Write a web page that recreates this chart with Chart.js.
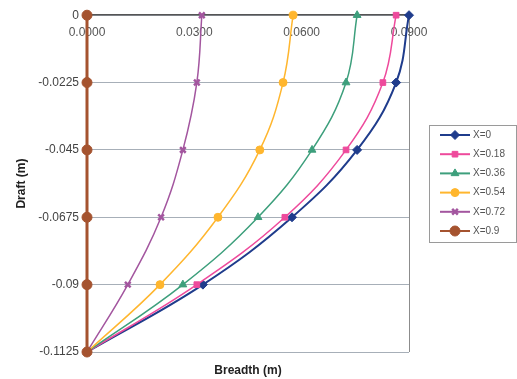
<!DOCTYPE html>
<html>
<head>
<meta charset="utf-8">
<title>Draft vs Breadth</title>
<script src="https://cdn.jsdelivr.net/npm/chart.js@4.4.1/dist/chart.umd.min.js"></script>
<style>
  html, body { margin: 0; padding: 0; background: #fff; }
  #wrap { width: 517px; height: 379px; }
</style>
</head>
<body>
<div id="wrap"><canvas id="myChart" width="517" height="379"></canvas></div>
<script>
// draft levels (m) shared by every section
var drafts = [0, -0.0225, -0.045, -0.0675, -0.09, -0.1125];

// breadth (m) at each draft, one list per station
var breadthX0   = [0.0900, 0.0864, 0.0755, 0.0573, 0.0324, 0];
var breadthX018 = [0.0864, 0.0827, 0.0724, 0.0553, 0.0307, 0];
var breadthX036 = [0.0755, 0.0724, 0.0629, 0.0478, 0.0268, 0];
var breadthX054 = [0.0576, 0.0548, 0.0483, 0.0366, 0.0204, 0];
var breadthX072 = [0.0321, 0.0307, 0.0268, 0.0207, 0.0114, 0];
var breadthX09  = [0, 0, 0, 0, 0, 0];

var stations = ["X=0", "X=0.18", "X=0.36", "X=0.54", "X=0.72", "X=0.9"];
var xTicks = [0, 0.03, 0.06, 0.09];
var yTicks = [0, -0.0225, -0.045, -0.0675, -0.09, -0.1125];

var series = [breadthX0, breadthX018, breadthX036, breadthX054, breadthX072, breadthX09];
var colors = ["#1f3c8c", "#ee4a9c", "#3d9f7c", "#ffb62e", "#a3569f", "#a5532f"];
var markers = ["rectRot", "rect", "triangle", "circle", "crossRot", "circle"];
var radii = [4.5, 4, 4.5, 4, 4, 5];
var widths = [2, 1.5, 1.5, 1.5, 1.5, 3];

var FONT = "'Liberation Sans', Arial, sans-serif";
Chart.defaults.font.family = FONT;

function points(xs) {
  return xs.map(function (b, i) { return { x: b, y: drafts[i] }; });
}

var datasets = series.map(function (s, i) {
  return {
    label: stations[i],
    data: points(s),
    xAxisID: "x",
    yAxisID: "y",
    borderColor: colors[i],
    backgroundColor: colors[i],
    borderWidth: widths[i],
    pointStyle: markers[i],
    pointRadius: radii[i],
    pointBorderWidth: markers[i] === "crossRot" ? 2.5 : 1,
    tension: 0.4,
    clip: false,
    order: series.length - i
  };
});

// boxed legend with line + marker swatches, to the right of the plot
var boxLegend = {
  id: "boxLegend",
  afterDraw: function (chart) {
    var ctx = chart.ctx;
    var a = chart.chartArea;
    var left = a.right + 20;
    var h = 117;
    var top = Math.round((a.top + a.bottom) / 2 - h / 2);
    ctx.save();
    ctx.strokeStyle = "#9a9a9a";
    ctx.lineWidth = 1;
    ctx.strokeRect(left + 0.5, top + 0.5, 87, h);
    chart.data.datasets.forEach(function (ds, i) {
      var y = top + 10 + i * 19.2;
      ctx.strokeStyle = ds.borderColor;
      ctx.fillStyle = ds.backgroundColor;
      ctx.lineWidth = 2;
      ctx.beginPath();
      ctx.moveTo(left + 11, y);
      ctx.lineTo(left + 41, y);
      ctx.stroke();
      ctx.lineWidth = ds.pointBorderWidth;
      Chart.helpers.drawPoint(ctx, {
        pointStyle: ds.pointStyle,
        radius: ds.pointRadius,
        rotation: 0,
        borderWidth: ds.pointBorderWidth
      }, left + 26, y);
      ctx.fillStyle = "#555";
      ctx.font = "10px " + FONT;
      ctx.textBaseline = "middle";
      ctx.textAlign = "left";
      ctx.fillText(ds.label, left + 44, y);
    });
    ctx.restore();
  }
};

var ctx = document.getElementById("myChart").getContext("2d");
var myChart = new Chart(ctx, {
  type: "line",
  data: { datasets: datasets },
  options: {
    responsive: false,
    animation: false,
    layout: { padding: { left: 0, top: 13, right: 108, bottom: 0 } },
    plugins: {
      legend: { display: false },
      tooltip: { enabled: false }
    },
    scales: {
      x: {
        type: "linear",
        position: { y: 0 },
        min: 0,
        max: 0.09,
        afterBuildTicks: function (s) {
          s.ticks = xTicks.map(function (v) { return { value: v }; });
        },
        grid: {
          drawTicks: false,
          color: function (c) {
            return c.tick && c.tick.value === 0.09 ? "#8c8c8c" : "rgba(0,0,0,0)";
          }
        },
        border: { color: "#555", width: 1.5 },
        ticks: {
          padding: 10,
          color: "#555",
          font: { size: 12 },
          callback: function (v) { return Number(v).toFixed(4); }
        }
      },
      x2: {
        type: "linear",
        position: "bottom",
        min: 0,
        max: 0.09,
        grid: { display: false },
        border: { display: false },
        ticks: { display: false },
        title: {
          display: true,
          text: "Breadth (m)",
          color: "#222",
          font: { size: 12, weight: "bold" },
          padding: { top: 4, bottom: 1 }
        },
        afterFit: function (s) { s.height = 27; }
      },
      y: {
        type: "linear",
        min: -0.1125,
        max: 0,
        afterBuildTicks: function (s) {
          s.ticks = yTicks.map(function (v) { return { value: v }; });
        },
        afterFit: function (s) { s.width = 87; },
        grid: { color: "#a7afb8", drawTicks: false },
        border: { color: "#8c8c8c" },
        ticks: {
          padding: 8,
          color: "#444",
          font: { size: 12 },
          callback: function (v) { return String(v); }
        },
        title: {
          display: true,
          text: "Draft (m)",
          color: "#222",
          font: { size: 12, weight: "bold" },
          padding: { top: 14, bottom: 0 }
        }
      }
    }
  },
  plugins: [boxLegend]
});
</script>
</body>
</html>
